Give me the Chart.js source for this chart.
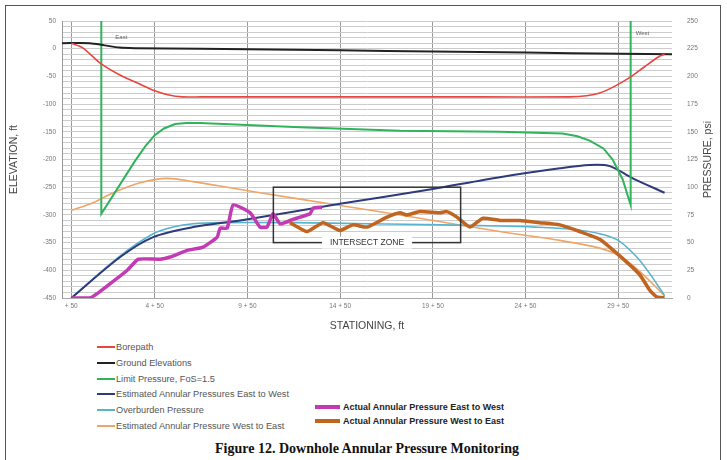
<!DOCTYPE html>
<html>
<head>
<meta charset="utf-8">
<title>Downhole Annular Pressure Monitoring</title>
<script src="https://cdn.jsdelivr.net/npm/chart.js@4.4.1/dist/chart.umd.min.js"></script>
<style>
  html, body { margin:0; padding:0; background:#fff; }
  #page { position:relative; width:727px; height:460px; overflow:hidden; font-family:"Liberation Sans", Arial, sans-serif; }
  #frame { position:absolute; left:5px; top:5px; width:714px; height:470px; border:1.5px solid #555; }
  #chartBox { position:absolute; left:0; top:0; width:727px; height:335px; }
  .leg { position:absolute; display:flex; align-items:center; white-space:nowrap; height:12px; }
  .leg i { display:inline-block; margin-right:1px; }
  .legL { font-size:9.2px; color:#555; }
  .legR { font-size:9px; color:#222; font-weight:bold; }
  #figTitle { position:absolute; left:0; width:734px; top:441px; text-align:center;
              font-family:"Liberation Serif", "Times New Roman", serif; font-weight:bold; font-size:14px; color:#111; }
</style>
</head>
<body>
<div id="page">
  <div id="frame"></div>
  <div id="chartBox"><canvas id="chart"></canvas></div>
  <div id="legend"></div>
  <div id="figTitle">Figure 12. Downhole Annular Pressure Monitoring</div>
</div>
<script>
// ── Axis ticks ───────────────────────────────────────────────
const stationTicks  = [0, 450, 950, 1450, 1950, 2450, 2950];
const stationLabels = ['+ 50', '4 + 50', '9 + 50', '14 + 50', '19 + 50', '24 + 50', '29 + 50'];
const elevMin = -450, elevMax = 50, elevStep = 10, elevLabelEvery = 50;
const psiMin = 0, psiMax = 250, psiStep = 25;

// ── Elevation series (left axis, ft) ─────────────────────────
const borepathX = [0, 60, 156, 260, 372, 450, 520, 600, 700, 1200, 1700, 2200, 2690, 2780, 2850, 2930, 3017, 3090, 3170, 3200];
const borepathY = [10, 2, -26, -47, -64, -76, -83, -87, -87, -87, -87, -87, -87, -85, -80, -68, -51, -33, -14, -10];

const groundX = [-50, 100, 180, 260, 350, 700, 1200, 1700, 2200, 2700, 3240];
const groundY = [10, 10, 6, 2, 1, 0, -2, -4, -6, -8, -10];

// ── Pressure series (right axis, psi) ────────────────────────
const limitX = [162, 162, 345, 400, 450, 500, 560, 620, 695, 1234, 1773, 2311, 2650, 2730, 2796, 2870, 2920, 2974, 3017, 3017];
const limitY = [250, 76, 124, 137, 147, 153, 157, 158, 158, 154, 151, 150, 148.5, 146, 142, 135, 125, 107, 84, 250];

const estEWX = [0, 264, 442, 657, 911, 1449, 1934, 2311, 2635, 2796, 2904, 3028, 3200];
const estEWY = [0, 37, 55, 64, 70, 85, 98, 109, 117, 120, 119, 108, 95];

const overX = [0, 264, 442, 550, 657, 800, 1200, 1600, 2000, 2300, 2500, 2700, 2850, 2950, 3050, 3120, 3200];
const overY = [0, 38, 58, 64, 67, 68, 68, 67, 66, 65, 64, 62, 58, 52, 37, 22, 2];

const estWEX = [0, 118, 226, 372, 517, 657, 841, 1018, 1433, 1880, 2311, 2635, 2850, 2958, 3066, 3200];
const estWEY = [79, 86, 95, 104, 108, 105, 100, 95, 84, 72, 60, 52, 45, 38, 24, 2];

const actEWX = [0, 102, 210, 302, 361, 480, 533, 625, 711, 787, 803, 841, 873, 964, 1018, 1056, 1088, 1126, 1180, 1234, 1288, 1304, 1352];
const actEWY = [0, 0, 13, 25, 35, 35, 37, 43, 46, 55, 63, 63, 84, 77, 64, 64, 76, 67, 70, 73, 76, 81, 82];

const actWEX = [1180, 1272, 1358, 1449, 1519, 1595, 1703, 1773, 1810, 1880, 1988, 2026, 2080, 2150, 2220, 2311, 2419, 2527, 2635, 2742, 2850, 2958, 3066, 3120, 3157, 3200];
const actWEY = [68, 60, 68, 61, 66, 64, 73, 77, 75, 78, 77, 78, 73, 64, 72, 70, 70, 68, 66, 60, 53, 38, 21, 7, 1, 0];

// intersect zone (station ft / psi)
const zoneStation  = [1090, 2100];
const zonePressure = [50, 100];

const pts = (xs, ys) => xs.map((x, i) => ({ x, y: ys[i] }));
const FONT = '"Liberation Sans", Arial, sans-serif';

function series(label, xs, ys, color, width, axis, col, extra) {
  return Object.assign({
    label, data: pts(xs, ys), borderColor: color, backgroundColor: color,
    borderWidth: width, pointRadius: 0, tension: 0.3, yAxisID: axis, legendCol: col
  }, extra || {});
}

const datasets = [
  series('Actual Annular Pressure East to West', actEWX, actEWY, '#c23bb4', 3.5, 'yP', 'R', { tension: 0.15 }),
  series('Actual Annular Pressure West to East', actWEX, actWEY, '#c1641f', 3.5, 'yP', 'R', { tension: 0.15 }),
  series('Borepath', borepathX, borepathY, '#e8453f', 1.6, 'yE', 'L'),
  series('Ground Elevations', groundX, groundY, '#222222', 2, 'yE', 'L'),
  series('Limit Pressure, FoS=1.5', limitX, limitY, '#2fb45c', 2, 'yP', 'L', { tension: 0 }),
  series('Estimated Annular Pressures East to West', estEWX, estEWY, '#2e3a7c', 2, 'yP', 'L'),
  series('Overburden Pressure', overX, overY, '#58b3cf', 1.6, 'yP', 'L'),
  series('Estimated Annular Pressure West to East', estWEX, estWEY, '#f0a566', 1.6, 'yP', 'L'),
];

// ── Extra drawings: zone box, East/West, right title ────────
const extras = {
  id: 'extras',
  afterDatasetsDraw(chart) {
    const { ctx, chartArea, scales } = chart;
    const x = scales.x, yP = scales.yP;
    const x0 = x.getPixelForValue(zoneStation[0]), x1 = x.getPixelForValue(zoneStation[1]);
    const y0 = yP.getPixelForValue(zonePressure[1]), y1 = yP.getPixelForValue(zonePressure[0]);
    ctx.save();
    ctx.strokeStyle = '#333'; ctx.lineWidth = 1.5;
    ctx.strokeRect(x0, y0, x1 - x0, y1 - y0);
    ctx.font = '8.5px ' + FONT;
    const txt = 'INTERSECT ZONE', w = ctx.measureText(txt).width;
    const cx = (x0 + x1) / 2;
    ctx.fillStyle = '#fff';
    ctx.fillRect(cx - w / 2 - 8, y1 - 6, w + 16, 12);
    ctx.fillStyle = '#333'; ctx.textAlign = 'center'; ctx.textBaseline = 'middle';
    ctx.fillText(txt, cx, y1 + 0.5);

    ctx.font = '6px ' + FONT; ctx.fillStyle = '#666'; ctx.textAlign = 'left';
    ctx.fillText('East', x.getPixelForValue(limitX[0]) + 14, chartArea.top + 16);
    ctx.fillText('West', x.getPixelForValue(limitX[limitX.length - 1]) + 5, chartArea.top + 12);
    ctx.restore();
  },
  afterDraw(chart) {
    const { ctx, chartArea } = chart;
    ctx.save();
    ctx.translate(708, (chartArea.top + chartArea.bottom) / 2);
    ctx.rotate(-Math.PI / 2);
    ctx.font = '10.5px ' + FONT; ctx.fillStyle = '#444';
    ctx.textAlign = 'center'; ctx.textBaseline = 'middle';
    ctx.fillText('PRESSURE, psi', 0, 0);
    ctx.restore();
  }
};

const tickFont = { family: FONT, size: 6.5 };

const chart = new Chart(document.getElementById('chart'), {
  type: 'line',
  data: { datasets },
  plugins: [extras],
  options: {
    responsive: true, maintainAspectRatio: false, animation: false,
    layout: { padding: { left: 4, top: 21, right: 0, bottom: 0 } },
    plugins: { legend: { display: false }, tooltip: { enabled: false } },
    scales: {
      x: {
        type: 'linear', min: -50, max: 3240,
        afterBuildTicks: s => { s.ticks = stationTicks.map(v => ({ value: v })); },
        afterFit: s => { s.height = 37; },
        ticks: { font: tickFont, color: '#777', padding: 4, autoSkip: false, maxRotation: 0,
                 callback: (v, i) => stationLabels[i] },
        grid: { color: '#9a9a9a', drawTicks: false },
        border: { display: true, color: '#aaa' },
        title: { display: true, text: 'STATIONING, ft', font: { family: FONT, size: 10.5 }, color: '#444', padding: { top: 6, bottom: 3 } }
      },
      yE: {
        type: 'linear', position: 'left', min: elevMin, max: elevMax,
        afterFit: s => { s.width = 58; },
        ticks: { stepSize: elevStep, autoSkip: false, font: tickFont, color: '#777', padding: 6,
                 callback: v => (v % elevLabelEvery === 0 ? v : '') },
        grid: { color: '#cccccc', drawTicks: false },
        border: { display: true, color: '#999' },
        title: { display: true, text: 'ELEVATION, ft', font: { family: FONT, size: 10.5 }, color: '#444', padding: 4 }
      },
      yP: {
        type: 'linear', position: 'right', min: psiMin, max: psiMax,
        afterFit: s => { s.width = 55; },
        ticks: { stepSize: psiStep, font: tickFont, color: '#777', padding: 7 },
        grid: { display: false },
        border: { display: false }
      }
    }
  }
});

// ── Legend (HTML) ────────────────────────────────────────────
function buildLegend() {
  const box = document.getElementById('legend');
  let li = 0, ri = 0;
  ['L', 'R'].forEach(col => {
    chart.data.datasets.filter(d => d.legendCol === col).forEach(d => {
      const el = document.createElement('div');
      if (col === 'L') {
        el.className = 'leg legL';
        el.style.left = '97px'; el.style.top = (341 + li * 15.8) + 'px';
        el.innerHTML = `<i style="width:18px;height:2px;background:${d.borderColor}"></i>${d.label}`;
        li++;
      } else {
        el.className = 'leg legR';
        el.style.left = '315px'; el.style.top = (401 + ri * 14) + 'px';
        el.innerHTML = `<i style="width:25px;height:4px;background:${d.borderColor};margin-right:3px"></i>${d.label}`;
        ri++;
      }
      box.appendChild(el);
    });
  });
}
buildLegend();
</script>
</body>
</html>
